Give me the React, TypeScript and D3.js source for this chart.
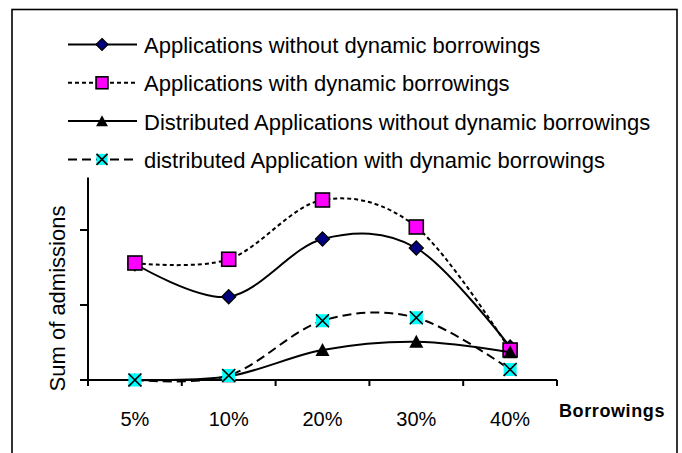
import React from 'react';
import * as d3 from 'd3';

const categories = ['5%', '10%', '20%', '30%', '40%'];
const yTicks = [0, 10, 20];

const seriesNames = [
  'Applications without dynamic borrowings',
  'Applications with dynamic borrowings',
  'Distributed Applications without dynamic borrowings',
  'distributed Application with dynamic borrowings',
];
const withoutDyn = [15.5, 11.1, 18.8, 17.6, 4.4];
const withDyn = [15.6, 16.1, 24.0, 20.4, 4.0];
const distWithoutDyn = [0, 0.5, 4.0, 5.1, 3.7];
const distWithDyn = [0, 0.6, 7.9, 8.3, 1.4];

const W = 682;
const H = 453;
const plot = { left: 88, right: 557, top: 177.5, bottom: 380 };
const font = 'Arial, "Liberation Sans", sans-serif';

const styles = [
  { dash: undefined as string | undefined, marker: 'diamond' },
  { dash: '4,3', marker: 'square' },
  { dash: undefined as string | undefined, marker: 'triangle' },
  { dash: '9,5', marker: 'xbox' },
];

const Marker = ({ kind, x, y, small }: { kind: string; x: number; y: number; small?: boolean }) => {
  const k = small ? 0.85 : 1;
  if (kind === 'diamond') {
    const s = 7 * k;
    return (
      <path
        d={`M${x},${y - s}L${x + s},${y}L${x},${y + s}L${x - s},${y}Z`}
        fill="#000080"
        stroke="#000"
        strokeWidth={1.3}
      />
    );
  }
  if (kind === 'square') {
    const s = 7 * k;
    return <rect x={x - s} y={y - s} width={2 * s} height={2 * s} fill="#ff00ff" stroke="#000" strokeWidth={1.6} />;
  }
  if (kind === 'triangle') {
    const s = 7 * k;
    return <path d={`M${x},${y - s}L${x + s},${y + s * 0.85}L${x - s},${y + s * 0.85}Z`} fill="#000" />;
  }
  const s = 6.5 * k;
  return (
    <g>
      <rect x={x - s} y={y - s} width={2 * s} height={2 * s} fill="#00ffff" />
      <path d={`M${x - s},${y - s}L${x + s},${y + s}M${x + s},${y - s}L${x - s},${y + s}`} stroke="#000" strokeWidth={1.7} />
    </g>
  );
};

export default function App() {
  const x = d3.scaleBand<string>().domain(categories).range([plot.left, plot.right]).padding(0);
  const y = d3.scaleLinear().domain([0, 27]).range([plot.bottom, plot.top]);
  const cx = (c: string) => (x(c) || 0) + x.bandwidth() / 2;

  const line = d3
    .line<number>()
    .x((_, i) => cx(categories[i]))
    .y((d) => y(d))
    .curve(d3.curveCardinal.tension(0));

  const data = [withoutDyn, withDyn, distWithoutDyn, distWithDyn];
  const boundaries = categories.map((c) => x(c) || 0).concat([plot.right]);

  const legendY = [44.5, 82.8, 121.1, 159.4];

  return (
    <svg width={W} height={H} style={{ position: 'absolute', left: 0, top: 0, background: '#fff' }} fontFamily={font}>
      <rect x={12} y={9.5} width={665} height={460} fill="#fff" stroke="#000" strokeWidth={1.6} />

      {/* legend */}
      {seriesNames.map((name, i) => (
        <g key={name}>
          <line
            x1={68}
            x2={137}
            y1={legendY[i]}
            y2={legendY[i]}
            stroke="#000"
            strokeWidth={2}
            strokeDasharray={styles[i].dash}
          />
          <Marker kind={styles[i].marker} x={102} y={legendY[i]} small />
          <text x={144} y={legendY[i] + 8.5} fontSize={22} fill="#000">
            {name}
          </text>
        </g>
      ))}

      {/* axes */}
      <line x1={plot.left} x2={plot.left} y1={plot.top} y2={plot.bottom} stroke="#000" strokeWidth={2} />
      <line x1={plot.left - 8} x2={plot.right} y1={plot.bottom} y2={plot.bottom} stroke="#000" strokeWidth={2} />
      {yTicks.map((t) => (
        <line key={t} x1={plot.left - 8} x2={plot.left} y1={y(t)} y2={y(t)} stroke="#000" strokeWidth={2} />
      ))}
      {boundaries.map((b, i) => (
        <line key={i} x1={b} x2={b} y1={plot.bottom} y2={plot.bottom + 6} stroke="#000" strokeWidth={2} />
      ))}
      {categories.map((c) => (
        <text key={c} x={cx(c)} y={426} textAnchor="middle" fontSize={20} fill="#000">
          {c}
        </text>
      ))}
      <text x={559} y={416.5} fontSize={18} fontWeight="bold" letterSpacing={0.6} fill="#000">
        Borrowings
      </text>
      <text
        transform={`translate(65,298.5) rotate(-90)`}
        textAnchor="middle"
        fontSize={22}
        fill="#000"
      >
        Sum of admissions
      </text>

      {/* series */}
      {data.map((vals, i) => (
        <g key={i}>
          <path d={line(vals) || ''} fill="none" stroke="#000" strokeWidth={2} strokeDasharray={styles[i].dash} />
          {vals.map((v, j) => (
            <Marker key={j} kind={styles[i].marker} x={cx(categories[j])} y={y(v)} />
          ))}
        </g>
      ))}
    </svg>
  );
}
